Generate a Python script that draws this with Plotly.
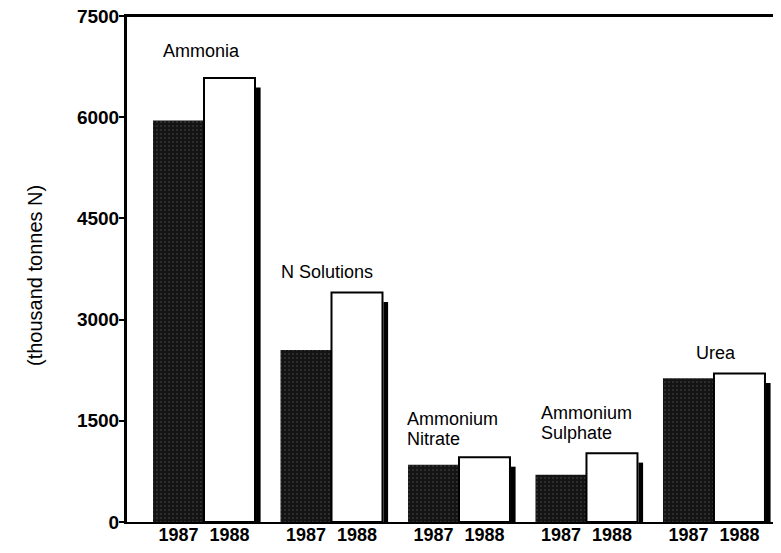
import plotly.graph_objects as go

# ---- data ----
products = ["Ammonia", "N Solutions", "Ammonium\nNitrate", "Ammonium\nSulphate", "Urea"]
values_1987 = [5950, 2550, 850, 700, 2130]
values_1988 = [6580, 3400, 960, 1020, 2200]
year_labels = ["1987", "1988"]
y_ticks = [0, 1500, 3000, 4500, 6000, 7500]

# ---- style ----
FONT = "Liberation Sans, Arial, sans-serif"
shadow_drop = 140          # shadow top sits a little below the white bar top
label_xshift = [8, -2, -3, 4, 31]   # px, relative to left edge of 1987 bar
label_gap = [20, 14, 11, 13, 14]     # px between bar top and last baseline
line_step = 20

W, H = 765, 537
ML, MT, MB, MR = 119, 8, 23, 0
plot_w = W - ML - MR
plot_h = H - MT - MB

idx = list(range(len(products)))

fig = go.Figure()
fig.add_trace(go.Bar(
    x=idx, y=values_1987, offset=-0.4, width=0.4,
    marker=dict(color="#141414", line=dict(width=0),
                pattern=dict(shape=".", bgcolor="#141414", fgcolor="#8a8a8a",
                             size=4, solidity=0.12)),
    showlegend=False, hoverinfo="skip"))
fig.add_trace(go.Bar(
    x=idx, y=values_1988, offset=0.0, width=0.4,
    marker=dict(color="white", line=dict(color="black", width=2)),
    showlegend=False, hoverinfo="skip"))
fig.add_trace(go.Bar(
    x=idx, y=[v - shadow_drop for v in values_1988], offset=0.408, width=0.036,
    marker=dict(color="black", line=dict(width=0)),
    showlegend=False, hoverinfo="skip"))

tickvals, ticktext = [], []
for i in idx:
    tickvals += [i - 0.2, i + 0.2]
    ticktext += ["<b>%s</b>" % t for t in year_labels]

annotations = []
for i, name in enumerate(products):
    lines = name.split("\n")
    top = max(values_1987[i], values_1988[i])
    for j, line in enumerate(reversed(lines)):
        annotations.append(dict(
            x=i - 0.4, y=top, xref="x", yref="y",
            xanchor="left", yanchor="bottom", showarrow=False,
            text=line, xshift=label_xshift[i],
            yshift=label_gap[i] - 5 + j * line_step,
            font=dict(family=FONT, size=18, color="black")))

annotations.append(dict(
    x=(27 - ML) / plot_w, y=(514 - 268) / plot_h, xref="paper", yref="paper",
    xanchor="center", yanchor="middle", showarrow=False, textangle=-90,
    text="(thousand tonnes N)", font=dict(family=FONT, size=20, color="black")))

fig.update_layout(
    width=W, height=H,
    margin=dict(l=ML, r=MR, t=MT, b=MB, autoexpand=False),
    paper_bgcolor="white", plot_bgcolor="white",
    barmode="overlay",
    annotations=annotations,
    shapes=[dict(type="line", xref="paper", yref="paper", x0=0, x1=1, y0=1, y1=1,
                 line=dict(color="black", width=2), layer="above")],
    xaxis=dict(range=[-0.604, 4.463], tickvals=tickvals, ticktext=ticktext,
               ticks="", showgrid=False, zeroline=False,
               showline=True, linecolor="black", linewidth=2, mirror=True,
               ticklabelstandoff=-5, ticklabeloverflow="allow",
               tickfont=dict(family=FONT, size=18, color="black"),
               automargin=False, fixedrange=True),
    yaxis=dict(range=[0, 7500], tickvals=y_ticks,
               ticktext=["<b>%d</b>" % v for v in y_ticks],
               ticks="outside", ticklen=5, tickwidth=2, tickcolor="black",
               ticklabelstandoff=-4, ticklabeloverflow="allow",
               showgrid=False, zeroline=False,
               showline=True, linecolor="black", linewidth=3,
               tickfont=dict(family=FONT, size=19, color="black"),
               automargin=False, fixedrange=True),
)

fig.write_html("out.html")
